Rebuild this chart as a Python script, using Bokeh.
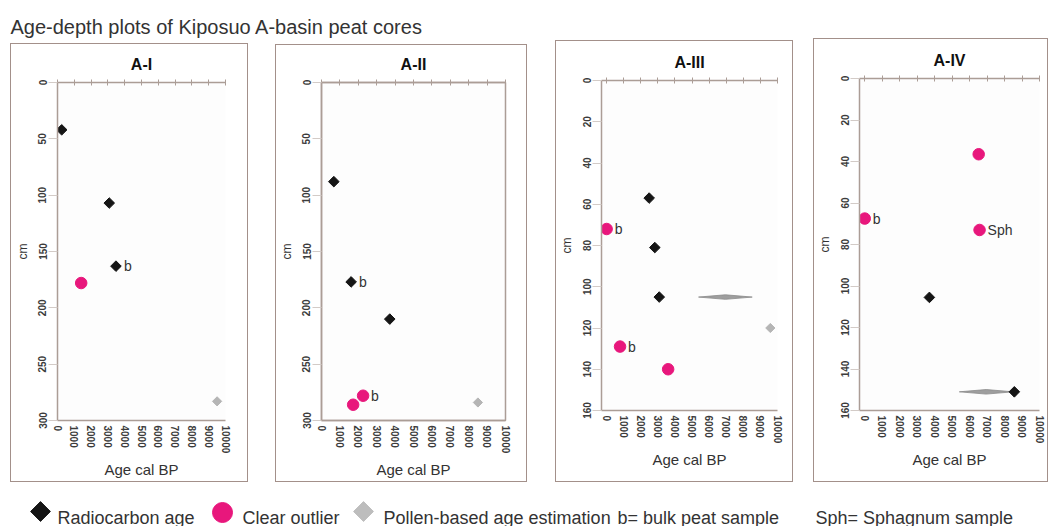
from bokeh.plotting import figure
from bokeh.layouts import column, row, Spacer
from bokeh.models import Range1d, LinearAxis, FixedTicker
from bokeh.embed import file_html
from bokeh.resources import INLINE
from bokeh.core.properties import value

# ---------------- data ----------------
TITLE = "Age-depth plots of Kiposuo A-basin peat cores"
panel_names = ["A-I", "A-II", "A-III", "A-IV"]
age_ticks = [0, 1000, 2000, 3000, 4000, 5000, 6000, 7000, 8000, 9000, 10000]
depth_ticks_300 = [0, 50, 100, 150, 200, 250, 300]
depth_ticks_160 = [0, 20, 40, 60, 80, 100, 120, 140, 160]

# A-I
rc_age_1 = [250, 3080, 3480]
rc_depth_1 = [42, 107, 163]
out_age_1 = [1410]
out_depth_1 = [178]
pol_age_1 = [9500]
pol_depth_1 = [283]
lab_age_1 = [3480]
lab_depth_1 = [163]
lab_text_1 = ["b"]

# A-II
rc_age_2 = [670, 1610, 3710]
rc_depth_2 = [88, 177, 210]
out_age_2 = [1720, 2260]
out_depth_2 = [286, 278]
pol_age_2 = [8500]
pol_depth_2 = [284]
lab_age_2 = [1610, 2260]
lab_depth_2 = [177, 278]
lab_text_2 = ["b", "b"]

# A-III
rc_age_3 = [2490, 2820, 3080]
rc_depth_3 = [57, 81, 105]
out_age_3 = [0, 785, 3600]
out_depth_3 = [72, 129, 140]
pol_age_3 = [9580]
pol_depth_3 = [120]
pol_range_center_3 = [6950]
pol_range_half_3 = [1570]
pol_range_depth_3 = [105]
lab_age_3 = [0, 785]
lab_depth_3 = [72, 129]
lab_text_3 = ["b", "b"]

# A-IV
rc_age_4 = [3700, 8560]
rc_depth_4 = [105.5, 151]
out_age_4 = [6520, 0, 6570]
out_depth_4 = [36.5, 67.5, 73]
pol_age_4 = []
pol_depth_4 = []
pol_range_center_4 = [6950]
pol_range_half_4 = [1540]
pol_range_depth_4 = [151]
lab_age_4 = [0, 6570]
lab_depth_4 = [67.5, 73]
lab_text_4 = ["b", "Sph"]

legend_labels = ["Radiocarbon age", "Clear outlier", "Pollen-based age estimation",
                 "b= bulk peat sample", "Sph= Sphagnum sample"]

# ---------------- style ----------------
FONT = "Liberation Sans"
AX = "#ab9d96"
BOX = "#a3908a"
TXT = "#333333"
BLACK = "#151515"
PINK = "#e8177c"
GRAY = "#b5b5b5"
GRAY_R = "#9e9e9e"


def make_panel(name, w, h, bl, br, bt, bb, xstart, ymax, yticks,
               rc_a, rc_d, out_a, out_d, pol_a, pol_d,
               rng_c, rng_hw, rng_d, lab_a, lab_d, lab_t, right_line=False):
    p = figure(width=w, height=h, x_range=Range1d(xstart, 10000),
               y_range=Range1d(ymax, 0), output_backend="svg",
               toolbar_location=None, x_axis_location=None, y_axis_location=None,
               min_border_left=bl, min_border_right=br, min_border_top=bt,
               min_border_bottom=bb)
    p.grid.visible = False
    p.background_fill_color = "#fdfdfd"
    p.border_fill_color = "white"
    p.outline_line_color = AX if right_line else None
    p.outline_line_width = 1.5

    p.title.text = name
    p.title.align = "center"
    p.title.text_font = FONT
    p.title.text_font_size = "16px"
    p.title.text_font_style = "bold"
    p.title.text_color = "#111111"
    p.title.standoff = 14

    top = LinearAxis(ticker=FixedTicker(ticks=age_ticks))
    top.major_tick_in = 3
    top.major_tick_out = 3
    top.major_label_text_font_size = "0px"
    top.major_label_text_color = None
    top.major_label_standoff = 0
    top.minor_tick_line_color = None
    top.axis_line_color = AX
    top.axis_line_width = 1.5
    top.major_tick_line_color = AX
    p.add_layout(top, "above")

    bot = LinearAxis(ticker=FixedTicker(ticks=age_ticks), axis_label="Age cal BP")
    bot.major_tick_in = 0
    bot.major_tick_out = 0
    bot.minor_tick_line_color = None
    bot.major_label_orientation = "vertical"
    bot.major_label_standoff = 5
    bot.major_label_text_font = FONT
    bot.major_label_text_font_size = "10px"
    bot.major_label_text_font_style = "bold"
    bot.major_label_text_color = "#3c3c3c"
    bot.axis_line_color = AX
    bot.axis_line_width = 1.5
    bot.axis_label_text_font = FONT
    bot.axis_label_text_font_size = "15px"
    bot.axis_label_text_font_style = "normal"
    bot.axis_label_text_color = TXT
    bot.axis_label_standoff = 5
    p.add_layout(bot, "below")

    left = LinearAxis(ticker=FixedTicker(ticks=yticks), axis_label="cm")
    left.major_tick_in = 0
    left.major_tick_out = 9
    left.minor_tick_line_color = None
    left.major_label_orientation = "vertical"
    left.major_label_standoff = 2
    left.major_label_text_font = FONT
    left.major_label_text_font_size = "10px"
    left.major_label_text_font_style = "bold"
    left.major_label_text_color = "#3c3c3c"
    left.axis_line_color = AX
    left.axis_line_width = 1.5
    left.major_tick_line_color = "#d3cbc7"
    left.axis_label_text_font = FONT
    left.axis_label_text_font_size = "12px"
    left.axis_label_text_font_style = "normal"
    left.axis_label_text_color = TXT
    left.axis_label_standoff = 6
    p.add_layout(left, "left")

    if rng_c:
        hh = 1.1 * ymax / 160
        xs = [[c - hw, c, c + hw, c] for c, hw in zip(rng_c, rng_hw)]
        ys = [[d, d - hh, d, d + hh] for d in rng_d]
        p.patches(xs, ys, fill_color=GRAY_R, line_color="#8a8a8a", line_width=0.8)

    if pol_a:
        p.scatter(pol_a, pol_d, marker="square", angle=0.785, size=6.5,
                  fill_color=GRAY, line_color=GRAY)
    p.scatter(rc_a, rc_d, marker="square", angle=0.785, size=7.5,
              fill_color=BLACK, line_color=BLACK)
    p.scatter(out_a, out_d, marker="circle", size=11.5, fill_color=PINK,
              line_color=PINK)
    p.text(lab_a, lab_d, text=lab_t, x_offset=8, text_baseline="middle",
           text_font=value(FONT), text_font_size="14px", text_color=TXT)
    return p


def boxed(p):
    # 1px border around the whole panel (figure is 2px smaller than the box)
    return column(p, width=p.width + 2, height=p.height + 2,
                  styles={"border": "1px solid " + BOX, "box-sizing": "border-box"})


p1 = make_panel("A-I", 236, 437, 46, 22, 38, 61, 0, 300, depth_ticks_300,
                rc_age_1, rc_depth_1, out_age_1, out_depth_1, pol_age_1, pol_depth_1,
                [], [], [], lab_age_1, lab_depth_1, lab_text_1)
p2 = make_panel("A-II", 250, 436, 45, 21, 37, 60, 0, 300, depth_ticks_300,
                rc_age_2, rc_depth_2, out_age_2, out_depth_2, pol_age_2, pol_depth_2,
                [], [], [], lab_age_2, lab_depth_2, lab_text_2, right_line=True)
p3 = make_panel("A-III", 236, 440, 42, 15, 39, 71, -300, 160, depth_ticks_160,
                rc_age_3, rc_depth_3, out_age_3, out_depth_3, pol_age_3, pol_depth_3,
                pol_range_center_3, pol_range_half_3, pol_range_depth_3,
                lab_age_3, lab_depth_3, lab_text_3)
p4 = make_panel("A-IV", 233, 442, 42, 8, 39, 71, -300, 160, depth_ticks_160,
                rc_age_4, rc_depth_4, out_age_4, out_depth_4, pol_age_4, pol_depth_4,
                pol_range_center_4, pol_range_half_4, pol_range_depth_4,
                lab_age_4, lab_depth_4, lab_text_4)

# ---------------- title strip ----------------
tf = figure(width=1048, height=38, x_range=Range1d(0, 1048), y_range=Range1d(38, 0),
            output_backend="svg", toolbar_location=None,
            x_axis_location=None, y_axis_location=None, min_border=0)
tf.grid.visible = False
tf.outline_line_color = None
tf.text([10], [26], text=[TITLE], text_baseline="alphabetic",
        text_font=value(FONT), text_font_size="20px", text_color=TXT)

# ---------------- legend strip ----------------
lf = figure(width=1048, height=44, x_range=Range1d(0, 1048), y_range=Range1d(526, 482),
            output_backend="svg", toolbar_location=None,
            x_axis_location=None, y_axis_location=None, min_border=0)
lf.grid.visible = False
lf.outline_line_color = None
lf.scatter([40], [511], marker="square", angle=0.785, size=14,
           fill_color=BLACK, line_color=BLACK)
lf.scatter([222], [512], marker="circle", size=20, fill_color=PINK, line_color=PINK)
lf.scatter([363], [511], marker="square", angle=0.785, size=14,
           fill_color="#bdbdbd", line_color="#bdbdbd")
lf.text([57, 242, 383, 617, 815], [517] * 5, text=legend_labels,
        text_baseline="alphabetic", text_font=value(FONT), text_font_size="18px",
        text_color=TXT)


def col(top_off, b):
    return column(Spacer(width=b.width, height=top_off), b)


panels = row(Spacer(width=10, height=10),
             col(43 - 38, boxed(p1)), Spacer(width=27, height=10),
             col(44 - 38, boxed(p2)), Spacer(width=28, height=10),
             col(40 - 38, boxed(p3)), Spacer(width=20, height=10),
             col(38 - 38, boxed(p4)))

layout = column(tf, panels, lf)

open("out.html", "w").write(file_html(layout, INLINE))
